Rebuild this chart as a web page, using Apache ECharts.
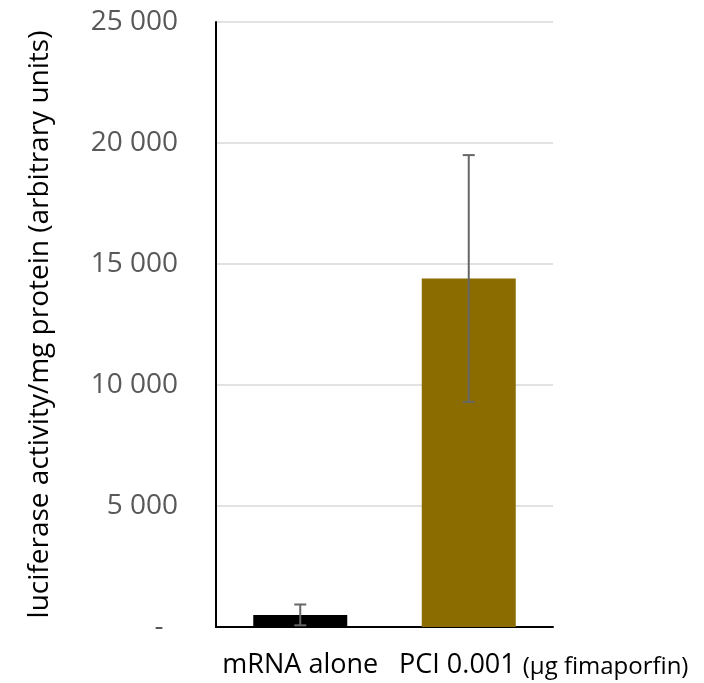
<!DOCTYPE html>
<html>
<head>
<meta charset="utf-8">
<script src="https://cdn.jsdelivr.net/npm/echarts@6/dist/echarts.min.js"></script>
<style>
  html, body { margin: 0; padding: 0; background: #fff; }
  #chart { width: 704px; height: 683px; }
</style>
</head>
<body>
<div id="chart"></div>
<script>
const categories = ['mRNA alone', 'PCI 0.001'];
const values = [500, 14400];
const errors = [430, 5100];
const barColors = ['#000000', '#8B6C00'];
const yTicks = [0, 5000, 10000, 15000, 20000, 25000];

const chart = echarts.init(document.getElementById('chart'));

const fmt = v => v === 0 ? '-  ' : String(v).replace(/\B(?=(\d{3})+(?!\d))/g, ' ');

const option = {
  animation: false,
  grid: { left: 216, right: 151, top: 22, bottom: 56 },
  xAxis: {
    type: 'category',
    data: [
      categories[0],
      { value: categories[1], textStyle: { padding: [0, 0, 0, 150] } }
    ],
    axisLine: { lineStyle: { color: '#000', width: 2 } },
    axisTick: { show: false },
    axisLabel: {
      interval: 0,
      margin: 25,
      fontFamily: 'Open Sans',
      fontSize: 27,
      color: '#000',
      formatter: (v, i) => i === 1 ? v + ' {s|(µg fimaporfin)}' : v,
      rich: { s: { fontFamily: 'Open Sans', fontSize: 24, color: '#000', verticalAlign: 'bottom' } }
    }
  },
  yAxis: {
    type: 'value',
    min: yTicks[0],
    max: yTicks[yTicks.length - 1],
    interval: 5000,
    name: 'luciferase activity/mg protein (arbitrary units)',
    nameLocation: 'middle',
    nameRotate: 90,
    nameGap: 162,
    nameTextStyle: { fontFamily: 'Open Sans', fontSize: 28, color: '#000' },
    axisLine: { show: true, lineStyle: { color: '#000', width: 2 } },
    axisTick: { show: false },
    axisLabel: {
      margin: 38,
      fontFamily: 'Open Sans',
      fontSize: 28,
      color: '#595959',
      formatter: fmt
    },
    splitLine: { lineStyle: { color: '#d9d9d9', width: 1.5 } }
  },
  series: [
    {
      type: 'bar',
      data: values.map((v, i) => ({ value: v, itemStyle: { color: barColors[i] } })),
      barWidth: 94
    },
    {
      type: 'custom',
      data: values.map((v, i) => [i, v - errors[i], v + errors[i]]),
      renderItem: (params, api) => {
        const lo = api.coord([api.value(0), api.value(1)]);
        const hi = api.coord([api.value(0), api.value(2)]);
        const x = lo[0];
        const cap = 6;
        const style = { stroke: '#666', lineWidth: 2 };
        return {
          type: 'group',
          children: [
            { type: 'line', shape: { x1: x, y1: lo[1], x2: x, y2: hi[1] }, style },
            { type: 'line', shape: { x1: x - cap, y1: lo[1], x2: x + cap, y2: lo[1] }, style },
            { type: 'line', shape: { x1: x - cap, y1: hi[1], x2: x + cap, y2: hi[1] }, style }
          ]
        };
      },
      z: 5
    }
  ]
};

chart.setOption(option);
</script>
</body>
</html>
